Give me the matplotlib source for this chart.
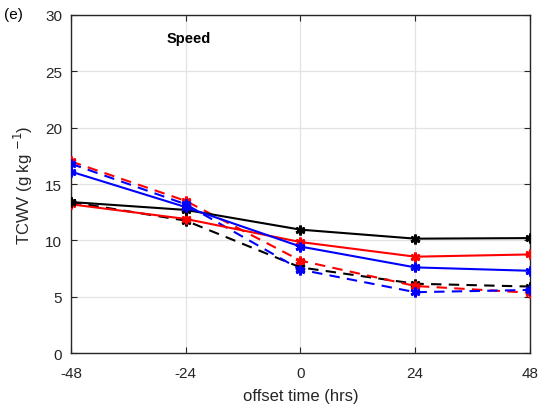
import matplotlib
matplotlib.use('Agg')
import matplotlib.pyplot as plt

# offset time (hrs)
offsets = [-48, -24, 0, 24, 48]

# TCWV values
black_solid = [13.4, 12.7, 10.95, 10.15, 10.2]
red_solid = [13.2, 11.9, 9.85, 8.55, 8.75]
blue_solid = [16.1, 12.95, 9.45, 7.6, 7.3]
black_dashed = [13.4, 11.75, 7.6, 6.15, 5.9]
red_dashed = [17.0, 13.5, 8.2, 5.95, 5.35]
blue_dashed = [16.8, 13.2, 7.4, 5.4, 5.6]

xticks = [-48, -24, 0, 24, 48]
yticks = [0, 5, 10, 15, 20, 25, 30]

plt.rcParams['font.family'] = ['Liberation Sans', 'DejaVu Sans']
plt.rcParams['axes.unicode_minus'] = False

fig = plt.figure(figsize=(5.39, 4.06), dpi=100)
ax = fig.add_axes([0.1317, 0.128, 0.8516, 0.8326])

series = [
    (black_dashed, 'black', '--'),
    (red_dashed, 'red', '--'),
    (blue_dashed, 'blue', '--'),
    (red_solid, 'red', '-'),
    (black_solid, 'black', '-'),
    (blue_solid, 'blue', '-'),
]
for vals, col, ls in series:
    ax.plot(offsets, vals, color=col, linestyle=ls, linewidth=1.5,
            marker=(6, 2, 0), markersize=7, markeredgewidth=2,
            dashes=(5, 3.5) if ls == '--' else (None, None), zorder=4)

ax.set_xlim(-48, 48)
ax.set_ylim(0, 30)
ax.set_xticks(xticks)
ax.set_yticks(yticks)
ax.grid(True, color='#e3e3e3', linewidth=0.9)
ax.set_axisbelow(True)
ax.tick_params(direction='in', top=True, right=True, labelsize=11, length=4,
               color='#262626', labelcolor='#262626')
ax.tick_params(axis='x', pad=9)
ax.tick_params(axis='y', pad=6.5)
for s in ax.spines.values():
    s.set_color('#262626')
    s.set_linewidth(1.0)

ax.set_xlabel('offset time (hrs)', fontsize=12, color='#262626', labelpad=6)
ax.set_ylabel('TCWV (g kg $^{-1}$)', fontsize=12, color='#262626', labelpad=7)

ax.text(-28, 28, 'Speed', fontsize=10.5, fontweight='bold', va='center', ha='left')
fig.text(0.008, 0.962, '(e)', fontsize=11, va='center', ha='left')

fig.savefig('out.png', dpi=100)
